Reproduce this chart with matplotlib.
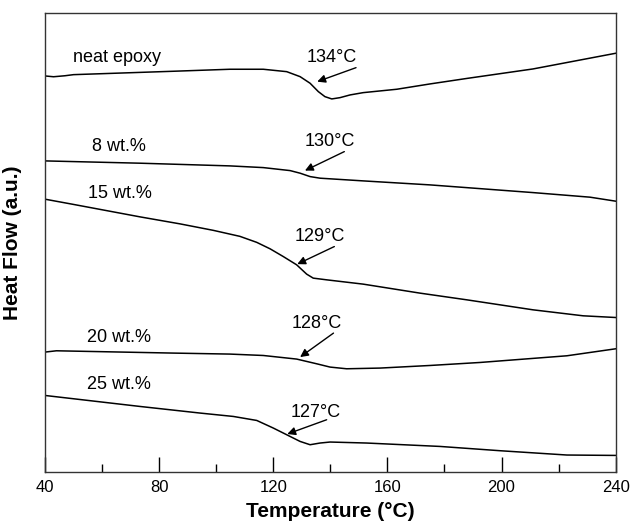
import matplotlib
matplotlib.use("Agg")
import matplotlib.pyplot as plt
from matplotlib.ticker import MultipleLocator

plt.rcParams['font.family'] = ['Liberation Sans', 'DejaVu Sans']

# Temperature (°C) and heat flow (a.u., offset curves)
t_neat = [40, 43, 47, 50, 85, 104.8, 116.5, 124.7, 129.4, 132.9, 135.8, 138.1, 140.5, 143.4, 146.9, 151.5, 163.3, 174.9, 187.8, 211, 240]
h_neat = [396, 395.2, 396.2, 397.3, 400.7, 402.7, 402.7, 400.3, 395.3, 388.7, 380.3, 375.3, 373, 374.3, 377, 379.3, 382.7, 388, 393.5, 403, 418.7]

t_8 = [40, 73.3, 104.8, 116.5, 125.9, 129.4, 132.9, 136.4, 151.5, 174.9, 211, 231, 240]
h_8 = [311, 308.7, 306, 304.3, 301.3, 298.7, 295.3, 293.7, 291, 287, 279.3, 274.7, 270.7]

t_15 = [40, 49.9, 73.3, 87.3, 99, 108.3, 114.2, 118.9, 123.5, 128.2, 131.7, 134, 138.7, 151.5, 171.4, 187.8, 211, 228.6, 240]
h_15 = [272.7, 267.5, 255, 248, 241.5, 235.5, 229.5, 223, 215.3, 207, 197.7, 193.7, 192, 187.7, 178.7, 172, 162, 156, 154.3]

t_20 = [40, 44, 84.9, 104.8, 116.5, 128.2, 135.2, 139.9, 145.7, 157.4, 174.9, 192.4, 222.9, 240]
h_20 = [119.7, 121, 118.7, 117.7, 116.3, 112.7, 108, 104.7, 103, 103.7, 106.3, 109.3, 116, 123]

t_25 = [40, 73.3, 94.3, 106, 114.2, 120, 124.7, 129.4, 132.9, 136.4, 139.9, 152.7, 178.4, 199.5, 222.9, 240]
h_25 = [76.3, 65.3, 58.7, 55.3, 51.3, 43.7, 37, 30.3, 27, 28.7, 29.7, 28.7, 25.3, 21, 16.7, 16.3]

curve_labels = ["neat epoxy", "8 wt.%", "15 wt.%", "20 wt.%", "25 wt.%"]
tg_labels = ["134°C", "130°C", "129°C", "128°C", "127°C"]

fig = plt.figure(figsize=(6.32, 5.28), dpi=100)
ax = fig.add_axes([0.0712, 0.1066, 0.9030, 0.8688])

for t, h in [(t_neat, h_neat), (t_8, h_8), (t_15, h_15), (t_20, h_20), (t_25, h_25)]:
    ax.plot(t, h, color='black', lw=1.1, solid_joinstyle='round')

ax.set_xlim(40, 240)
ax.set_ylim(0, 459)

# curve labels
label_pos = [(49.9, 414.3), (56.4, 325.3), (55.1, 278.7), (54.6, 134.7), (54.6, 87)]
for (x, y), s in zip(label_pos, curve_labels):
    ax.text(x, y, s, fontsize=13, ha='left', va='center')

# Tg annotations
text_pos = [(140.5, 414), (139.9, 330), (136.4, 235.3), (135.3, 148), (134.9, 59.7)]
arrows = [((149.0, 404.3), (135.4, 390.3)),
          ((144.9, 320.3), (131.1, 301.3)),
          ((141.4, 225.3), (128.4, 207.7)),
          ((141.1, 138.7), (129.4, 114.7)),
          ((138.7, 52), (124.9, 37.7))]
for (x, y), s, (tail, tip) in zip(text_pos, tg_labels, arrows):
    ax.text(x, y, s, fontsize=13, ha='center', va='center')
    ax.annotate('', xy=tip, xytext=tail,
                arrowprops=dict(arrowstyle='-|>', color='black', lw=1.0,
                                mutation_scale=12, shrinkA=0, shrinkB=0))

ax.xaxis.set_major_locator(MultipleLocator(40))
ax.xaxis.set_minor_locator(MultipleLocator(20))
ax.tick_params(axis='x', which='major', direction='in', length=11, width=1, labelsize=12, pad=6)
ax.tick_params(axis='x', which='minor', direction='in', length=5.5, width=1)
ax.tick_params(axis='x', top=False, which='both')
ax.set_yticks([])
for sp in ax.spines.values():
    sp.set_color('#333333')
    sp.set_linewidth(1.0)

ax.set_xlabel('Temperature (°C)', fontsize=15, fontweight='bold', labelpad=5)
ax.set_ylabel('Heat Flow (a.u.)', fontsize=15, fontweight='bold')
ax.yaxis.set_label_coords(-0.041, 0.5)

fig.savefig('out.png', dpi=100)
